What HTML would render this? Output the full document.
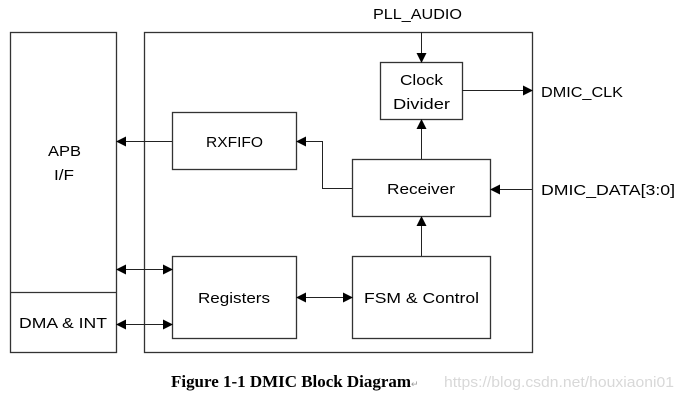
<!DOCTYPE html>
<html><head><meta charset="utf-8"><style>
html,body{margin:0;padding:0;background:#fff;width:684px;height:400px;overflow:hidden}
svg{display:block}
.t{font-family:"Liberation Sans",sans-serif;font-size:15px;fill:#000}
</style></head><body>
<svg width="684" height="400" viewBox="0 0 684 400" xmlns="http://www.w3.org/2000/svg">
<defs>
<marker id="a" markerWidth="10" markerHeight="10" refX="9" refY="5" orient="auto" markerUnits="userSpaceOnUse">
<path d="M0,0 L10,5 L0,10 z" fill="#000"/></marker>
<marker id="s" markerWidth="10" markerHeight="10" refX="1" refY="5" orient="auto" markerUnits="userSpaceOnUse">
<path d="M10,0 L0,5 L10,10 z" fill="#000"/></marker>
</defs>
<g fill="none" stroke="#333" stroke-width="1.3">
<rect x="10.5" y="32.5" width="106" height="320"/>
<line x1="10" y1="292.5" x2="116" y2="292.5"/>
<rect x="144.5" y="32.5" width="388" height="320"/>
<rect x="380.5" y="62.5" width="82" height="57"/>
<rect x="172.5" y="112.5" width="124" height="57"/>
<rect x="352.5" y="159.5" width="138" height="57"/>
<rect x="172.5" y="256.5" width="124" height="82"/>
<rect x="352.5" y="256.5" width="138" height="82"/>
</g>
<g stroke="#222" stroke-width="1" fill="none">
<line x1="421.5" y1="32" x2="421.5" y2="62" marker-end="url(#a)"/>
<line x1="462" y1="90.5" x2="532" y2="90.5" marker-end="url(#a)"/>
<line x1="532" y1="189.5" x2="491" y2="189.5" marker-end="url(#a)"/>
<line x1="421.5" y1="159" x2="421.5" y2="120" marker-end="url(#a)"/>
<polyline points="352,188.5 322.5,188.5 322.5,141.5 297,141.5" marker-end="url(#a)"/>
<line x1="172" y1="141.5" x2="117" y2="141.5" marker-end="url(#a)"/>
<line x1="421.5" y1="256" x2="421.5" y2="217" marker-end="url(#a)"/>
<line x1="117" y1="269.5" x2="172" y2="269.5" marker-start="url(#s)" marker-end="url(#a)"/>
<line x1="117" y1="324.5" x2="172" y2="324.5" marker-start="url(#s)" marker-end="url(#a)"/>
<line x1="297" y1="297.5" x2="352" y2="297.5" marker-start="url(#s)" marker-end="url(#a)"/>
</g>
<g class="t">
<text x="373" y="19" textLength="89" lengthAdjust="spacingAndGlyphs">PLL_AUDIO</text>
<text x="400" y="85" textLength="43" lengthAdjust="spacingAndGlyphs">Clock</text>
<text x="393" y="109" textLength="57" lengthAdjust="spacingAndGlyphs">Divider</text>
<text x="206" y="147" textLength="57" lengthAdjust="spacingAndGlyphs">RXFIFO</text>
<text x="387" y="194" textLength="68" lengthAdjust="spacingAndGlyphs">Receiver</text>
<text x="198" y="303" textLength="72" lengthAdjust="spacingAndGlyphs">Registers</text>
<text x="364" y="303" textLength="115" lengthAdjust="spacingAndGlyphs">FSM &amp; Control</text>
<text x="48" y="156" textLength="33" lengthAdjust="spacingAndGlyphs">APB</text>
<text x="54" y="180" textLength="20" lengthAdjust="spacingAndGlyphs">I/F</text>
<text x="19" y="328" textLength="88" lengthAdjust="spacingAndGlyphs">DMA &amp; INT</text>
<text x="541" y="97" textLength="82" lengthAdjust="spacingAndGlyphs">DMIC_CLK</text>
<text x="541" y="195" textLength="134" lengthAdjust="spacingAndGlyphs">DMIC_DATA[3:0]</text>
</g>
<text x="171" y="387" font-family="Liberation Serif,serif" font-size="17" font-weight="bold" fill="#000" textLength="240" lengthAdjust="spacingAndGlyphs">Figure 1-1 DMIC Block Diagram</text>
<text x="411" y="387" font-family="Liberation Sans,sans-serif" font-size="9" fill="#999">↵</text>
<text x="444" y="387" font-family="Liberation Sans,sans-serif" font-size="15" fill="#d8d8d8" textLength="230" lengthAdjust="spacingAndGlyphs">https://blog.csdn.net/houxiaoni01</text>
</svg>
</body></html>
